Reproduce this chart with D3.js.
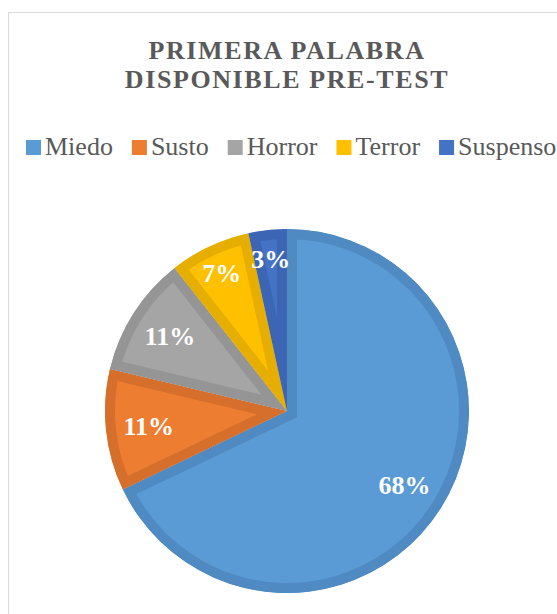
<!DOCTYPE html>
<html>
<head>
<meta charset="utf-8">
<script src="https://cdn.jsdelivr.net/npm/d3@7"></script>
<style>
  body { margin: 0; background: #fff; }
  svg text { font-family: 'Liberation Serif', 'DejaVu Serif', serif; }
</style>
</head>
<body>
<div class="chart"></div>
<script>
// categories and values (percent of answers)
var categories = ["Miedo", "Susto", "Horror", "Terror", "Suspenso"];
var values = [67.9, 10.8, 10.7, 7.2, 3.4];
var labels = ["68%", "11%", "11%", "7%", "3%"];
var titleLines = ["PRIMERA PALABRA", "DISPONIBLE PRE-TEST"];

var fills = ["#5b9bd5", "#ed7d31", "#a5a5a5", "#ffc000", "#4472c4"];
var strokes = ["#4f8bc2", "#d66f2b", "#959595", "#e6ae00", "#3c66b3"];

var width = 557, height = 614;
var cx = 287, cy = 411, radius = 182;

var svg = d3.select(".chart").append("svg")
    .attr("width", width)
    .attr("height", height);

// chart frame
svg.append("rect")
    .attr("x", 8.5).attr("y", 12.5)
    .attr("width", 600).attr("height", 650)
    .attr("fill", "none")
    .attr("stroke", "#d9d9d9");

// title
svg.append("text")
    .attr("text-anchor", "middle")
    .attr("fill", "#595959")
    .style("font-size", "26px")
    .style("font-weight", "bold")
    .style("letter-spacing", "1.6px")
  .selectAll("tspan")
    .data(titleLines)
  .enter().append("tspan")
    .attr("x", 287)
    .attr("y", function(d, i) { return 59 + i * 29; })
    .text(function(d) { return d; });

// legend, laid out left to right by text width
var legend = svg.append("g").attr("transform", "translate(26,140)");
var lx = 0;
categories.forEach(function(c, i) {
  var item = legend.append("g").attr("transform", "translate(" + lx + ",0)");
  item.append("rect")
      .attr("width", 15).attr("height", 15)
      .attr("fill", fills[i]);
  var t = item.append("text")
      .attr("x", 19).attr("y", 15)
      .attr("fill", "#595959")
      .style("font-size", "26px")
      .text(c);
  lx += 19 + t.node().getComputedTextLength() + 19;
});

// pie
var pie = d3.pie()
    .sort(null)
    .value(function(d) { return d; });

var arc = d3.arc()
    .innerRadius(0)
    .outerRadius(radius);

var arcs = pie(values);

var g = svg.append("g")
    .attr("transform", "translate(" + cx + "," + cy + ")");

// each slice clipped to itself so the darker border sits inside
g.selectAll("clipPath")
    .data(arcs)
  .enter().append("clipPath")
    .attr("id", function(d, i) { return "clip" + i; })
  .append("path")
    .attr("d", arc);

g.selectAll(".slice")
    .data(arcs)
  .enter().append("path")
    .attr("class", "slice")
    .attr("d", arc)
    .attr("clip-path", function(d, i) { return "url(#clip" + i + ")"; })
    .attr("fill", function(d, i) { return fills[i]; })
    .attr("stroke", function(d, i) { return strokes[i]; })
    .attr("stroke-width", 20)
    .attr("stroke-linejoin", "miter");

// data labels
g.selectAll(".lbl")
    .data(arcs)
  .enter().append("text")
    .attr("class", "lbl")
    .attr("text-anchor", "middle")
    .attr("dy", "0.35em")
    .attr("fill", "#fff")
    .style("font-size", "26px")
    .style("font-weight", "bold")
    .attr("transform", function(d) {
      var r = (d.endAngle - d.startAngle) < 0.5 ? 153 : 139;
      var a = (d.startAngle + d.endAngle) / 2;
      return "translate(" + (Math.sin(a) * r) + "," + (-Math.cos(a) * r) + ")";
    })
    .text(function(d, i) { return labels[i]; });
</script>
</body>
</html>
